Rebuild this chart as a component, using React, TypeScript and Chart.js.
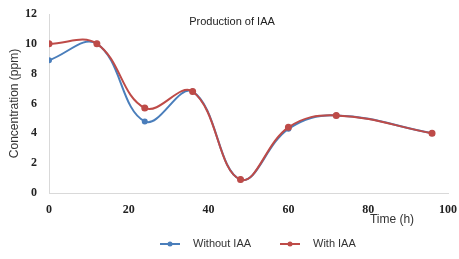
import React, { useEffect, useRef } from "react";
import { Chart, registerables } from "chart.js";

Chart.register(...registerables);

const hours = [0, 12, 24, 36, 48, 60, 72, 96];
const withoutIAA = [8.9, 10, 4.8, 6.8, 0.9, 4.3, 5.2, 4.0];
const withIAA = [10, 10, 5.7, 6.8, 0.9, 4.4, 5.2, 4.0];
const seriesNames = ["Without IAA", "With IAA"];
const seriesColors = ["#4a7ebb", "#be4b48"];
const chartTitle = "Production of IAA";
const yTitle = "Concentration (ppm)";
const xTitle = "Time (h)";

const overlay = {
  id: "overlay",
  afterDraw(chart: any) {
    const ctx = chart.ctx;
    const area = chart.chartArea;
    ctx.save();
    ctx.fillStyle = "#222";
    ctx.textBaseline = "middle";
    ctx.textAlign = "center";
    ctx.font = "11px 'Liberation Sans', Arial, sans-serif";
    ctx.fillText(chartTitle, 232, 22);
    ctx.font = "12px 'Liberation Sans', Arial, sans-serif";
    ctx.fillStyle = "#333";
    ctx.fillText(xTitle, 392, 220);
    ctx.save();
    ctx.translate(15, (area.top + area.bottom) / 2);
    ctx.rotate(-Math.PI / 2);
    ctx.fillText(yTitle, 0, 0);
    ctx.restore();
    // legend
    const ly = 244;
    const items = [
      { x: 160, text: seriesNames[0], color: seriesColors[0] },
      { x: 280, text: seriesNames[1], color: seriesColors[1] },
    ];
    ctx.font = "11px 'Liberation Sans', Arial, sans-serif";
    ctx.textAlign = "left";
    for (const it of items) {
      ctx.strokeStyle = it.color;
      ctx.lineWidth = 2;
      ctx.beginPath();
      ctx.moveTo(it.x, ly);
      ctx.lineTo(it.x + 20, ly);
      ctx.stroke();
      ctx.fillStyle = it.color;
      ctx.beginPath();
      ctx.arc(it.x + 10, ly, 2.5, 0, Math.PI * 2);
      ctx.fill();
      ctx.fillStyle = "#333";
      ctx.fillText(it.text, it.x + 33, ly);
    }
    ctx.restore();
  },
};

export default function App() {
  const ref = useRef<HTMLCanvasElement>(null);
  useEffect(() => {
    document.body.style.margin = "0";
    const tickFont = { family: "'Liberation Serif', 'Times New Roman', serif", size: 12, weight: "bold" as const };
    const chart = new Chart(ref.current!, {
      type: "line",
      data: {
        datasets: [
          {
            label: seriesNames[0],
            data: hours.map((h, i) => ({ x: h, y: withoutIAA[i] })),
            borderColor: seriesColors[0],
            backgroundColor: seriesColors[0],
            borderWidth: 2,
            pointRadius: 2,
            tension: 0.4,
            order: 1,
          },
          {
            label: seriesNames[1],
            data: hours.map((h, i) => ({ x: h, y: withIAA[i] })),
            borderColor: seriesColors[1],
            backgroundColor: seriesColors[1],
            borderWidth: 2,
            pointRadius: 2.5,
            tension: 0.4,
            order: 0,
          },
        ],
      },
      options: {
        animation: false,
        responsive: false,
        layout: { padding: { top: 14, right: 11, left: 0, bottom: 0 } },
        plugins: { legend: { display: false }, title: { display: false }, tooltip: { enabled: false } },
        scales: {
          x: {
            type: "linear",
            min: 0,
            max: 100,
            ticks: { stepSize: 20, font: tickFont, color: "#222", padding: 10 },
            grid: { display: false, drawTicks: false },
            border: { display: true, color: "#d9d9d9", width: 1 },
            afterFit(scale: any) {
              scale.height = 66;
              scale.paddingLeft = 0;
              scale.paddingRight = 0;
            },
          },
          y: {
            min: 0,
            max: 12,
            ticks: { stepSize: 2, font: tickFont, color: "#222", padding: 12 },
            grid: { display: false, drawTicks: false },
            border: { display: true, color: "#d9d9d9", width: 1 },
            afterFit(scale: any) {
              scale.width = 49;
              scale.paddingTop = 0;
              scale.paddingBottom = 0;
            },
          },
        },
      },
      plugins: [overlay],
    });
    return () => chart.destroy();
  }, []);
  return <canvas ref={ref} width={459} height={259} style={{ display: "block" }} />;
}
